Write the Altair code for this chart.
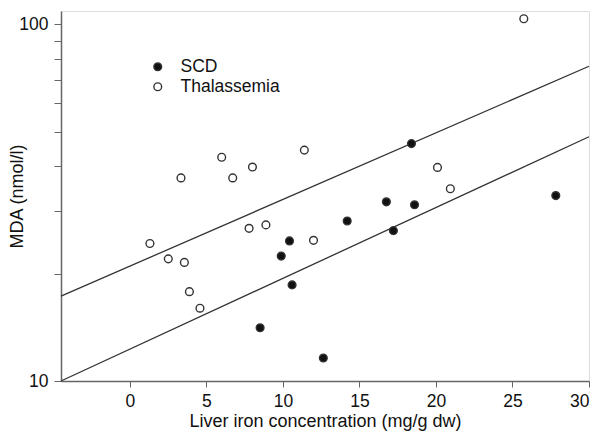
import altair as alt
import pandas as pd

# SCD (filled) points
scd_x = [10.43, 9.89, 10.6, 8.51, 12.64, 14.2, 16.76, 17.22, 18.4, 18.6, 27.83]
scd_y = [24.7, 22.4, 18.6, 14.1, 11.6, 28.1, 31.8, 26.4, 46.3, 31.2, 33.1]

# Thalassemia (open) points
thal_x = [1.31, 2.51, 3.56, 3.89, 4.58, 7.79, 8.89, 3.34, 6.0, 6.72, 8.01, 11.4, 20.1, 20.94, 25.74, 12.0]
thal_y = [24.3, 22.0, 21.5, 17.8, 16.0, 26.8, 27.4, 37.1, 42.4, 37.1, 39.8, 44.4, 39.7, 34.6, 103.7, 24.8]

# Regression lines (endpoints)
line_group = ["upper", "upper", "lower", "lower"]
line_x = [-4.5, 30, -4.5, 30]
line_y = [17.3, 76.3, 10.0, 48.4]

x_ticks = [0, 5, 10, 15, 20, 25, 30]
y_ticks = [10, 20, 30, 40, 50, 60, 70, 80, 90, 100]

pts = pd.DataFrame({
    "x": scd_x + thal_x,
    "y": scd_y + thal_y,
    "group": ["SCD"] * len(scd_x) + ["Thalassemia"] * len(thal_x),
})
lines = pd.DataFrame({"x": line_x, "y": line_y, "g": line_group})

FONT = "Liberation Sans"

xscale = alt.Scale(domain=[-4.5, 30], nice=False, zero=False)
yscale = alt.Scale(type="log", domain=[10, 109], nice=False)

xaxis = alt.Axis(values=x_ticks, title="Liver iron concentration (mg/g dw)",
                 grid=False, tickSize=6, labelPadding=5, titlePadding=3,
                 labelFontSize=17.5, titleFontSize=18, titleFontWeight="normal",
                 labelFont=FONT, titleFont=FONT, labelColor="#111", titleColor="#111",
                 domainColor="#666", tickColor="#666", domainWidth=1.5)
yaxis = alt.Axis(values=y_ticks, title="MDA (nmol/l)",
                 labelExpr="(datum.value == 10 || datum.value == 100) ? datum.label : ''",
                 grid=False, tickSize=7, labelPadding=6, titlePadding=-8,
                 labelFontSize=17.5, titleFontSize=18, titleFontWeight="normal",
                 labelFont=FONT, titleFont=FONT, labelColor="#111", titleColor="#111",
                 domainColor="#666", tickColor="#666", domainWidth=1.5)

line_layer = alt.Chart(lines).mark_line(color="#333", strokeWidth=1.3).encode(
    x=alt.X("x:Q", scale=xscale, axis=xaxis),
    y=alt.Y("y:Q", scale=yscale, axis=yaxis),
    detail="g:N",
)

pt_layer = alt.Chart(pts).mark_point(shape="circle", size=60, strokeWidth=1.4, stroke="#333", opacity=1).encode(
    x=alt.X("x:Q", scale=xscale, axis=xaxis),
    y=alt.Y("y:Q", scale=yscale, axis=yaxis),
    fill=alt.Fill("group:N",
                  scale=alt.Scale(domain=["SCD", "Thalassemia"], range=["#111111", "#ffffff"]),
                  legend=alt.Legend(title=None, orient="none", legendX=88, legendY=47,
                                    symbolType="circle", symbolSize=60,
                                    symbolStrokeColor="#333", symbolStrokeWidth=1.4,
                                    labelFontSize=17.5, labelFont=FONT, labelColor="#111",
                                    labelOffset=14, rowPadding=1)),
)

chart = alt.layer(line_layer, pt_layer).properties(
    width=528, height=370,
    autosize=alt.AutoSizeParams(type="none"),
    padding={"left": 53, "top": 3, "right": 6, "bottom": 50},
).configure_view(stroke="#666", strokeWidth=1.5).configure(background="white")

chart.save("out.html", embed_options={"renderer": "svg", "actions": False})
